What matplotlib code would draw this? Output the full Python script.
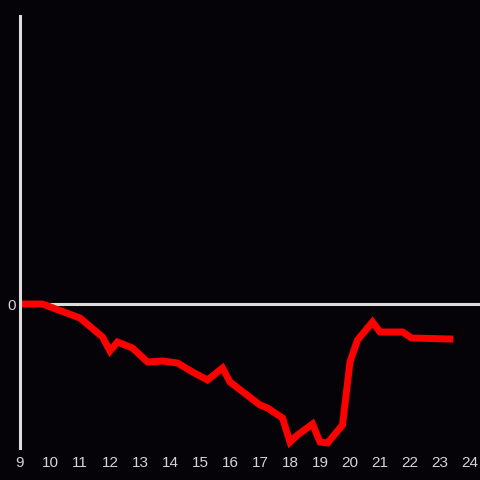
import matplotlib
matplotlib.use("Agg")
import matplotlib.pyplot as plt

# hours of day and value change
hours = [9, 9.75, 11, 11.75, 12, 12.25, 12.75, 13.25, 13.75, 14.25, 14.75,
         15.25, 15.75, 16, 17, 17.25, 17.75, 18, 18.25, 18.75, 19, 19.25,
         19.75, 20, 20.25, 20.75, 21, 21.75, 22.05, 23.33]
change = [0, 0, -1.4, -3.3, -4.7, -3.8, -4.4, -5.8, -5.7, -5.9, -6.8,
          -7.6, -6.4, -7.8, -10.1, -10.4, -11.4, -13.8, -13.1, -12.0, -13.8, -13.9,
          -12.1, -5.8, -3.6, -1.8, -2.8, -2.8, -3.4, -3.5]
xticks = list(range(9, 25))

bg = "#050307"
fg = "#dddddd"

plt.rcParams["font.family"] = ["Liberation Sans", "DejaVu Sans"]

fig = plt.figure(figsize=(4.8, 4.8), dpi=100, facecolor=bg)
ax = fig.add_axes([20 / 480, 32 / 480, 460 / 480, 432 / 480])
ax.set_facecolor(bg)

ax.axhline(0, color=fg, lw=2.2, zorder=1)
ax.plot(hours, change, color="#ff0000", lw=5, solid_joinstyle="miter", zorder=2)

ax.set_xlim(9, 24 + 1 / 3)
ax.set_ylim(-14.4, 28.8)
ax.set_xticks(xticks)
ax.set_yticks([0])
ax.tick_params(length=0, colors="#d4d4d4", labelsize=11, pad=6)
ax.tick_params(axis="y", pad=3)

for s in ["top", "right", "bottom"]:
    ax.spines[s].set_visible(False)
ax.spines["left"].set_color(fg)
ax.spines["left"].set_linewidth(2.2)

fig.savefig("out.png", dpi=100, facecolor=bg)
